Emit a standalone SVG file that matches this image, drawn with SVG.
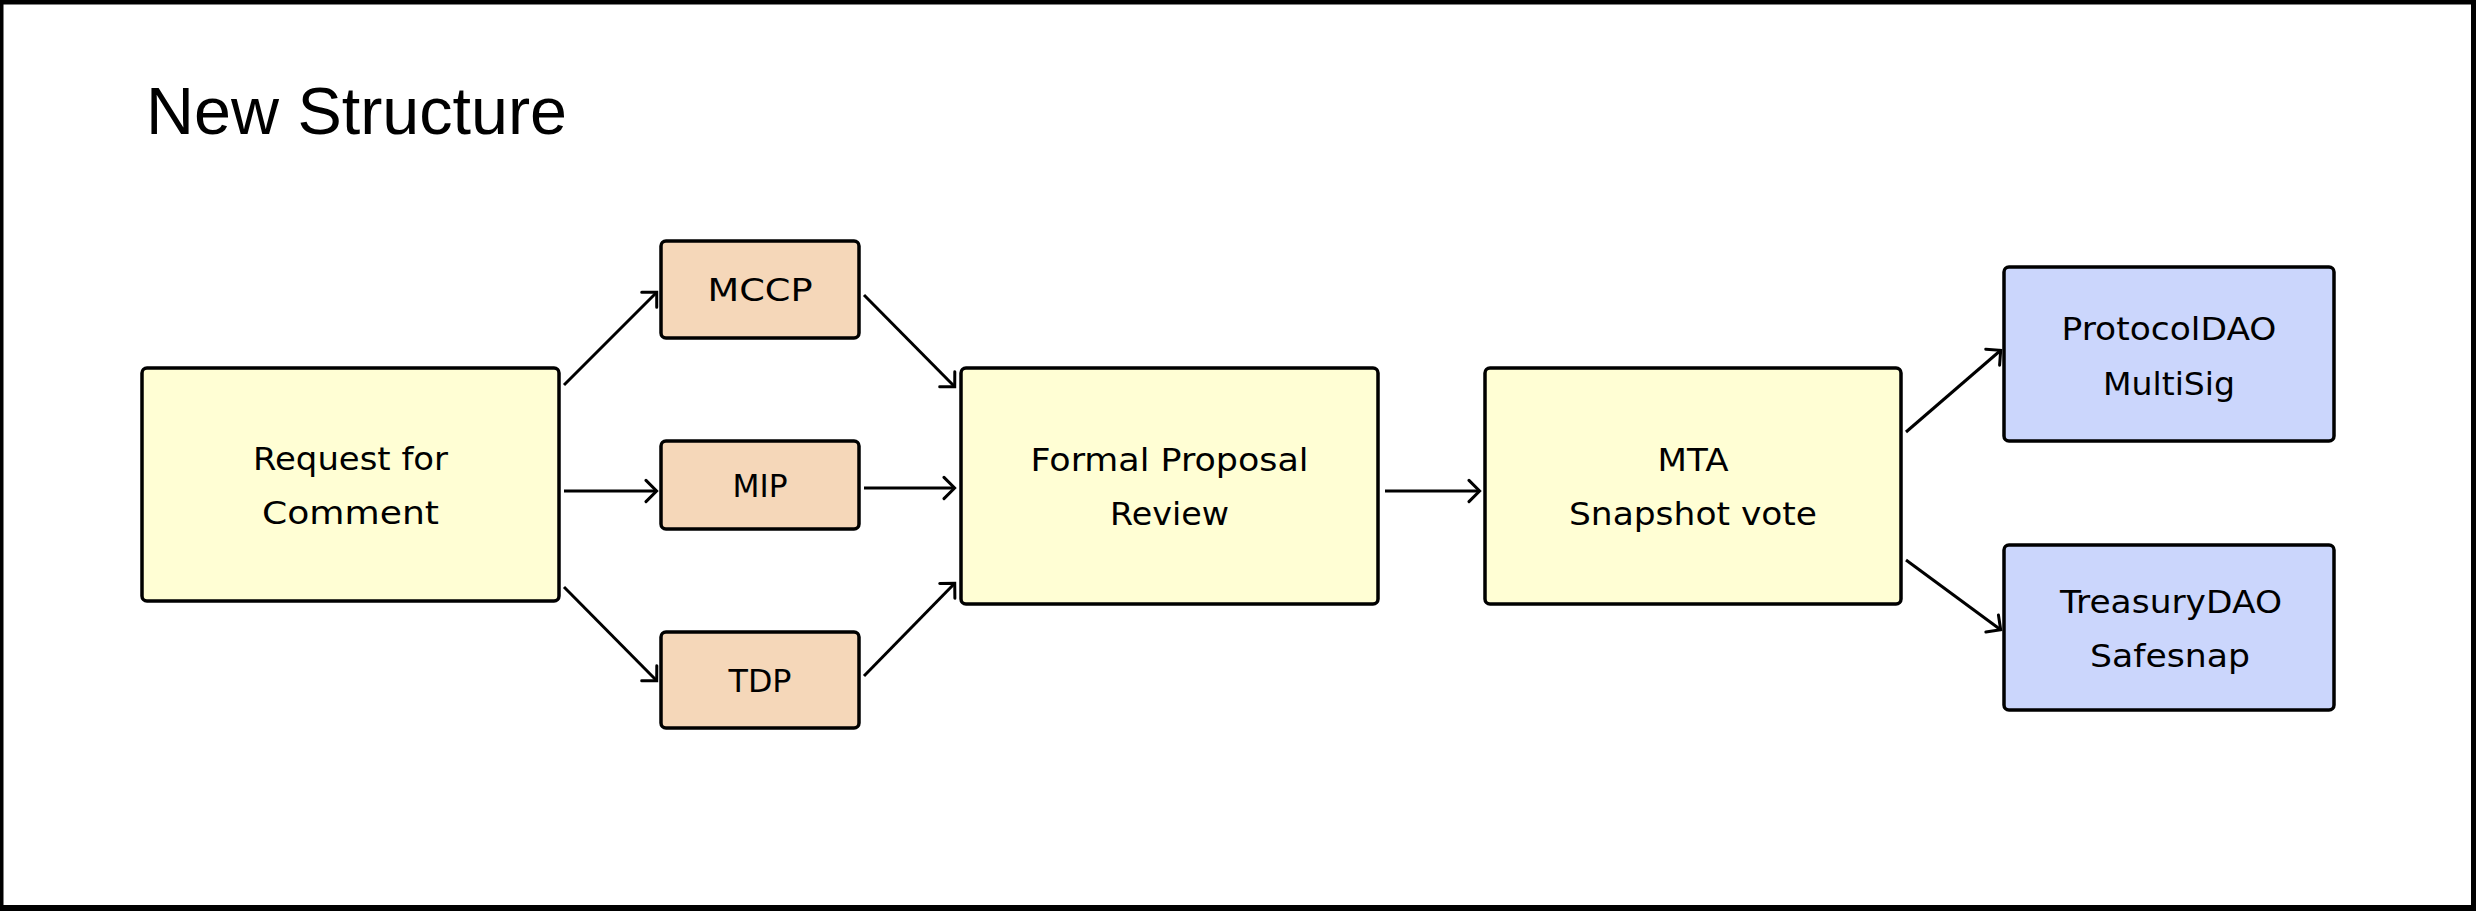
<svg xmlns="http://www.w3.org/2000/svg" width="2476" height="911" viewBox="0 0 2476 911">
<style>
.box{stroke:#000;stroke-width:3.5}
.y{fill:#FFFED4}
.o{fill:#F5D7B9}
.b{fill:#CBD6FC}
.t{font-family:"DejaVu Sans",sans-serif;font-size:32px;fill:#000;text-anchor:middle}
.title{font-family:"Liberation Sans",Arial,sans-serif;font-size:66px;fill:#000}
.c{stroke:#000;stroke-width:3;fill:none;marker-end:url(#arr)}
</style>
<defs>
<marker id="arr" viewBox="0 0 16 26" refX="13.5" refY="13" markerWidth="16" markerHeight="26" markerUnits="userSpaceOnUse" orient="auto">
<path d="M2.5,2.4 L13.1,13 L2.5,23.6" fill="none" stroke="#000" stroke-width="3" stroke-linecap="round"/>
</marker>
</defs>
<rect x="0" y="0" width="2476" height="911" fill="#000"/>
<rect x="3.5" y="4.5" width="2467.5" height="900.5" fill="#fff"/>
<text class="title" x="146" y="134" textLength="421" lengthAdjust="spacingAndGlyphs">New Structure</text>
<g id="connectors">
<line class="c" x1="564" y1="385" x2="657" y2="292"/>
<line class="c" x1="564" y1="491" x2="657" y2="491"/>
<line class="c" x1="564" y1="587" x2="657" y2="681"/>
<line class="c" x1="864" y1="295" x2="955" y2="387"/>
<line class="c" x1="864" y1="488" x2="955" y2="488"/>
<line class="c" x1="864" y1="676" x2="955" y2="583"/>
<line class="c" x1="1385" y1="491" x2="1480" y2="491"/>
<line class="c" x1="1906" y1="432" x2="2001" y2="350"/>
<line class="c" x1="1906" y1="560" x2="2001" y2="630"/>
</g>
<g id="rfc">
<rect class="box y" x="142" y="368" width="417" height="233" rx="5"/>
<text class="t" x="350.5" y="470" textLength="195" lengthAdjust="spacingAndGlyphs">Request for</text>
<text class="t" x="350.5" y="524" textLength="177" lengthAdjust="spacingAndGlyphs">Comment</text>
</g>
<g id="mccp">
<rect class="box o" x="661" y="241" width="198" height="97" rx="5"/>
<text class="t" x="760" y="301" textLength="105" lengthAdjust="spacingAndGlyphs">MCCP</text>
</g>
<g id="mip">
<rect class="box o" x="661" y="441" width="198" height="88" rx="5"/>
<text class="t" x="760" y="497" textLength="55" lengthAdjust="spacingAndGlyphs">MIP</text>
</g>
<g id="tdp">
<rect class="box o" x="661" y="632" width="198" height="96" rx="5"/>
<text class="t" x="760" y="692" textLength="63" lengthAdjust="spacingAndGlyphs">TDP</text>
</g>
<g id="fpr">
<rect class="box y" x="961" y="368" width="417" height="236" rx="5"/>
<text class="t" x="1169.5" y="471" textLength="278" lengthAdjust="spacingAndGlyphs">Formal Proposal</text>
<text class="t" x="1169.5" y="525" textLength="119" lengthAdjust="spacingAndGlyphs">Review</text>
</g>
<g id="mta">
<rect class="box y" x="1485" y="368" width="416" height="236" rx="5"/>
<text class="t" x="1693" y="471" textLength="71" lengthAdjust="spacingAndGlyphs">MTA</text>
<text class="t" x="1693" y="525" textLength="248" lengthAdjust="spacingAndGlyphs">Snapshot vote</text>
</g>
<g id="protocoldao">
<rect class="box b" x="2004" y="267" width="330" height="174" rx="5"/>
<text class="t" x="2169" y="340" textLength="215" lengthAdjust="spacingAndGlyphs">ProtocolDAO</text>
<text class="t" x="2169" y="395" textLength="132" lengthAdjust="spacingAndGlyphs">MultiSig</text>
</g>
<g id="treasurydao">
<rect class="box b" x="2004" y="545" width="330" height="165" rx="5"/>
<text class="t" x="2171" y="613" textLength="222" lengthAdjust="spacingAndGlyphs">TreasuryDAO</text>
<text class="t" x="2170" y="667" textLength="160" lengthAdjust="spacingAndGlyphs">Safesnap</text>
</g>
</svg>
